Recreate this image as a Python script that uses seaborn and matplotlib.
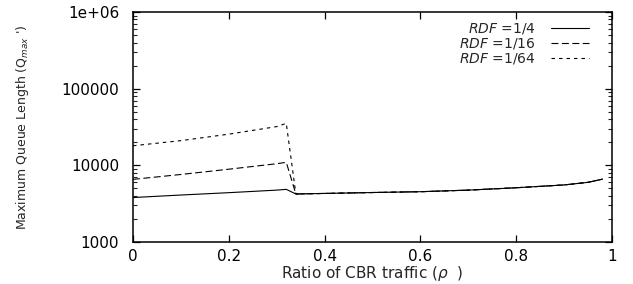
import matplotlib
matplotlib.use("Agg")
import matplotlib.pyplot as plt
import matplotlib.ticker as mticker
import seaborn as sns
import pandas as pd

# ---- data ----
x_vals = [0.0, 0.1, 0.2, 0.3, 0.32, 0.34, 0.4, 0.5, 0.6, 0.7, 0.8, 0.9, 0.95, 0.98]
q_rdf4 = [3800, 4100, 4400, 4750, 4860, 4230, 4300, 4420, 4530, 4750, 5100, 5550, 6000, 6600]
q_rdf16 = [6560, 7600, 8900, 10500, 10950, 4230, 4300, 4420, 4530, 4750, 5100, 5550, 6000, 6600]
q_rdf64 = [18000, 21000, 25500, 32000, 35300, 4230, 4300, 4420, 4530, 4750, 5100, 5550, 6000, 6600]
series_labels = [r"$\it{RDF}$ =1/4", r"$\it{RDF}$ =1/16", r"$\it{RDF}$ =1/64"]
y_ticks = [1000, 10000, 100000, 1000000]
y_ticklabels = ["1000", "10000", "100000", "1e+06"]
x_ticks = [0, 0.2, 0.4, 0.6, 0.8, 1]
x_ticklabels = ["0", "0.2", "0.4", "0.6", "0.8", "1"]

sns.set_theme(style="ticks")
plt.rcParams["font.family"] = ["DejaVu Sans"]
plt.rcParams["mathtext.fontset"] = "dejavusans"
plt.rcParams["lines.scale_dashes"] = False

fig = plt.figure(figsize=(6.33, 2.84), dpi=100)
ax = fig.add_axes([133 / 633, 42 / 284, 479 / 633, 230 / 284])

styles = ["-", (0, (5, 2.5)), (0, (2.5, 2.9))]
for ys, lab, ls in zip([q_rdf4, q_rdf16, q_rdf64], series_labels, styles):
    df = pd.DataFrame({"x": x_vals, "y": ys})
    sns.lineplot(data=df, x="x", y="y", ax=ax, color="black", linewidth=0.8, label=lab)
    ax.lines[-1].set_linestyle(ls)

ax.set_yscale("log")
ax.set_xlim(0, 1)
ax.set_ylim(1000, 1000000)
ax.set_yticks(y_ticks)
ax.set_yticklabels(y_ticklabels)
ax.set_xticks(x_ticks)
ax.set_xticklabels(x_ticklabels)
ax.yaxis.set_minor_locator(mticker.LogLocator(base=10, subs=range(2, 10)))
ax.yaxis.set_minor_formatter(mticker.NullFormatter())

ax.tick_params(axis="both", which="major", direction="in", length=5, width=0.9,
               top=True, right=True, labelsize=11, colors="black")
ax.tick_params(axis="y", which="major", pad=10)
ax.tick_params(axis="x", which="major", pad=5)
ax.tick_params(axis="y", which="minor", direction="in", length=3, width=0.8, right=True, left=True)
for sp in ax.spines.values():
    sp.set_linewidth(1.1)
    sp.set_color("black")

ax.set_xlabel(r"Ratio of CBR traffic ($\rho$  )", fontsize=11, labelpad=0)
ax.set_ylabel(r"Maximum Queue Length (Q$_{max}$ ')", fontsize=9)
ax.yaxis.set_label_coords(-0.213, 0.5)

leg = ax.legend(loc="upper right", bbox_to_anchor=(0.951, 0.96), frameon=False,
                markerfirst=False, fontsize=10, handlelength=2.7, handletextpad=1.1,
                labelspacing=0.0, borderpad=0, borderaxespad=0)

fig.savefig("out.png", dpi=100)
